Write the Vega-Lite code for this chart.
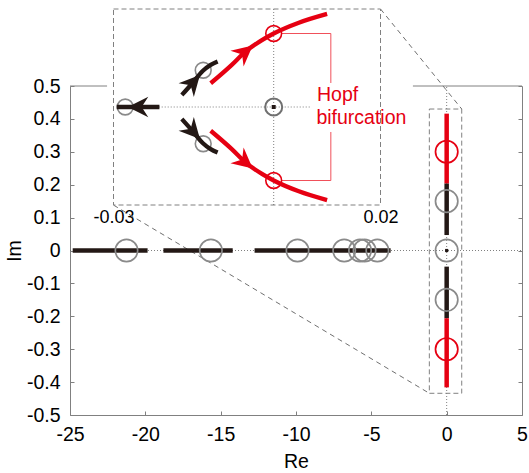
{
  "$schema": "https://vega.github.io/schema/vega-lite/v6.json",
  "width": 452,
  "height": 329,
  "autosize": {"type": "none"},
  "padding": {"left": 70, "top": 86, "right": 7, "bottom": 58},
  "config": {
    "view": {"stroke": null},
    "font": "Liberation Sans",
    "axis": {"labelFont": "Liberation Sans", "titleFont": "Liberation Sans", "labelColor": "#000000", "titleColor": "#000000", "grid": false}
  },
  "datasets": {
    "zero": [
      {"re": -25, "re2": 5, "im": 0, "im2": 0},
      {"re": 0, "re2": 0, "im": -0.5, "im2": 0.5}
    ],
    "zoombox": [{"re": -1.15, "re2": 1.0, "im": -0.434, "im2": 0.43}],
    "connector": [
      {"re": -22.11, "re2": -1.15, "im": 0.138, "im2": -0.434},
      {"re": -4.39, "re2": 1.0, "im": 0.734, "im2": 0.43}
    ],
    "locus": [
      {"re": -24.82, "re2": -19.85, "im": 0, "im2": 0, "kind": "stable"},
      {"re": -18.8, "re2": -14.2, "im": 0, "im2": 0, "kind": "stable"},
      {"re": -12.75, "re2": -3.72, "im": 0, "im2": 0, "kind": "stable"},
      {"re": 0, "re2": 0, "im": 0.047, "im2": 0.204, "kind": "stable"},
      {"re": 0, "re2": 0, "im": -0.206, "im2": -0.049, "kind": "stable"},
      {"re": 0, "re2": 0, "im": 0.204, "im2": 0.416, "kind": "unstable"},
      {"re": 0, "re2": 0, "im": -0.416, "im2": -0.206, "kind": "unstable"}
    ],
    "roots": [
      {"re": -21.25, "im": 0, "kind": "stable"},
      {"re": -15.65, "im": 0, "kind": "stable"},
      {"re": -9.9, "im": 0, "kind": "stable"},
      {"re": -6.8, "im": 0, "kind": "stable"},
      {"re": -5.75, "im": 0, "kind": "stable"},
      {"re": -5.45, "im": 0, "kind": "stable"},
      {"re": -4.6, "im": 0, "kind": "stable"},
      {"re": 0, "im": 0, "kind": "stable"},
      {"re": 0, "im": 0.15, "kind": "stable"},
      {"re": 0, "im": -0.15, "kind": "stable"},
      {"re": 0, "im": 0.3, "kind": "unstable"},
      {"re": 0, "im": -0.3, "kind": "unstable"}
    ],
    "origin": [{"re": 0, "im": 0}],
    "frametop": [
      {"re": -25, "re2": -22.54, "im": 0.5, "im2": 0.5},
      {"re": -2.24, "re2": 5, "im": 0.5, "im2": 0.5}
    ],
    "ibox": [{"x": -0.03, "x2": 0.02, "y": -0.4, "y2": 0.4}],
    "idot": [
      {"x": 0, "x2": 0, "y": -0.4, "y2": 0.4},
      {"x": -0.0294, "x2": 0.0069, "y": 0, "y2": 0}
    ],
    "icurve": [
      {"branch": "red_up", "kind": "unstable", "x": -0.0118, "y": 0.097},
      {"branch": "red_up", "kind": "unstable", "x": -0.0079, "y": 0.171},
      {"branch": "red_up", "kind": "unstable", "x": -0.0053, "y": 0.226},
      {"branch": "red_up", "kind": "unstable", "x": -0.0022, "y": 0.273},
      {"branch": "red_up", "kind": "unstable", "x": 0, "y": 0.3},
      {"branch": "red_up", "kind": "unstable", "x": 0.0047, "y": 0.344},
      {"branch": "red_up", "kind": "unstable", "x": 0.01, "y": 0.38},
      {"branch": "red_dn", "kind": "unstable", "x": -0.0118, "y": -0.097},
      {"branch": "red_dn", "kind": "unstable", "x": -0.0079, "y": -0.171},
      {"branch": "red_dn", "kind": "unstable", "x": -0.0053, "y": -0.226},
      {"branch": "red_dn", "kind": "unstable", "x": -0.0022, "y": -0.273},
      {"branch": "red_dn", "kind": "unstable", "x": 0, "y": -0.3},
      {"branch": "red_dn", "kind": "unstable", "x": 0.0047, "y": -0.344},
      {"branch": "red_dn", "kind": "unstable", "x": 0.01, "y": -0.38},
      {"branch": "blk_up", "kind": "stable", "x": -0.0172, "y": 0.049},
      {"branch": "blk_up", "kind": "stable", "x": -0.0152, "y": 0.098},
      {"branch": "blk_up", "kind": "stable", "x": -0.0133, "y": 0.147},
      {"branch": "blk_up", "kind": "stable", "x": -0.0118, "y": 0.172},
      {"branch": "blk_up", "kind": "stable", "x": -0.0105, "y": 0.186},
      {"branch": "blk_dn", "kind": "stable", "x": -0.0172, "y": -0.049},
      {"branch": "blk_dn", "kind": "stable", "x": -0.0152, "y": -0.098},
      {"branch": "blk_dn", "kind": "stable", "x": -0.0133, "y": -0.147},
      {"branch": "blk_dn", "kind": "stable", "x": -0.0118, "y": -0.172},
      {"branch": "blk_dn", "kind": "stable", "x": -0.0105, "y": -0.186},
      {"branch": "blk_re", "kind": "stable", "x": -0.0294, "y": 0},
      {"branch": "blk_re", "kind": "stable", "x": -0.0214, "y": 0}
    ],
    "iarrow": [
      {"x": -0.0054, "y": 0.224, "kind": "unstable", "heading": 50},
      {"x": -0.0054, "y": -0.224, "kind": "unstable", "heading": 130},
      {"x": -0.0151, "y": 0.1, "kind": "stable", "heading": 42},
      {"x": -0.0151, "y": -0.1, "kind": "stable", "heading": 138},
      {"x": -0.0254, "y": 0, "kind": "stable", "heading": 270}
    ],
    "iroots": [
      {"x": -0.0278, "y": 0, "kind": "stable"},
      {"x": -0.0132, "y": 0.15, "kind": "stable"},
      {"x": -0.0132, "y": -0.15, "kind": "stable"},
      {"x": 0, "y": 0.3, "kind": "unstable"},
      {"x": 0, "y": -0.3, "kind": "unstable"}
    ],
    "iorigin": [{"x": 0, "y": 0}],
    "ibracket": [
      {"x": 0.0015, "x2": 0.0107, "y": 0.3, "y2": 0.3},
      {"x": 0.0107, "x2": 0.0107, "y": 0.3, "y2": 0.098},
      {"x": 0.0107, "x2": 0.0107, "y": -0.102, "y2": -0.3},
      {"x": 0.0015, "x2": 0.0107, "y": -0.3, "y2": -0.3}
    ],
    "itext": [
      {"x": 0.0081, "y": 0.0245, "label": "Hopf"},
      {"x": 0.008, "y": -0.069, "label": "bifurcation"}
    ]
  },
  "layer": [
    {
      "encoding": {
        "x": {
          "field": "re", "type": "quantitative",
          "scale": {"domain": [-25, 5], "nice": false, "zero": false},
          "axis": {
            "title": "Re", "values": [-25, -20, -15, -10, -5, 0, 5],
            "labelExpr": "replace(datum.label, '−', '-')",
            "domainColor": "#808080", "domainWidth": 1, "tickColor": "#808080", "tickWidth": 1,
            "tickSize": -4, "labelPadding": 14.5, "labelFontSize": 19.5, "titleFontSize": 19.5,
            "titleFontWeight": "normal", "titlePadding": 8, "labelFlush": false, "labelOverlap": false, "grid": false
          }
        },
        "y": {
          "field": "im", "type": "quantitative",
          "scale": {"domain": [-0.5, 0.5], "nice": false, "zero": false},
          "axis": {
            "title": "Im", "values": [-0.5, -0.4, -0.3, -0.2, -0.1, 0, 0.1, 0.2, 0.3, 0.4, 0.5],
            "format": "~g", "labelExpr": "replace(datum.label, '−', '-')",
            "domainColor": "#808080", "domainWidth": 1, "tickColor": "#808080", "tickWidth": 1,
            "tickSize": -4, "labelPadding": 14, "labelFontSize": 19.5, "titleFontSize": 19.5,
            "titleFontWeight": "normal", "titlePadding": 2, "labelFlush": false, "labelOverlap": false, "grid": false
          }
        }
      },
      "layer": [
        {
          "data": {"name": "zero"},
          "mark": {"type": "rule", "color": "#606060", "strokeWidth": 0.8, "strokeDash": [1, 2]},
          "encoding": {"x2": {"field": "re2"}, "y2": {"field": "im2"}}
        },
        {
          "data": {"name": "zoombox"},
          "mark": {"type": "rect", "filled": false, "color": "#808080", "strokeWidth": 1, "strokeDash": [5, 3]},
          "encoding": {"x2": {"field": "re2"}, "y2": {"field": "im2"}}
        },
        {
          "data": {"name": "connector"},
          "mark": {"type": "rule", "color": "#707070", "strokeWidth": 1, "strokeDash": [5, 4]},
          "encoding": {"x2": {"field": "re2"}, "y2": {"field": "im2"}}
        },
        {
          "data": {"name": "locus"},
          "mark": {"type": "rule", "strokeWidth": 4.5, "strokeCap": "butt"},
          "encoding": {
            "x2": {"field": "re2"}, "y2": {"field": "im2"},
            "color": {"field": "kind", "type": "nominal", "scale": {"domain": ["stable", "unstable"], "range": ["#231815", "#e60012"]}, "legend": null}
          }
        },
        {
          "data": {"name": "roots"},
          "mark": {"type": "point", "filled": false, "size": 500, "strokeWidth": 1.7, "opacity": 1},
          "encoding": {
            "stroke": {"field": "kind", "type": "nominal", "scale": {"domain": ["stable", "unstable"], "range": ["#8a8a8a", "#e60012"]}, "legend": null}
          }
        },
        {
          "data": {"name": "origin"},
          "mark": {"type": "point", "shape": "square", "filled": true, "size": 10, "color": "#231815", "opacity": 1}
        }
      ]
    },
    {
      "data": {"name": "frametop"},
      "mark": {"type": "rule", "color": "#808080", "strokeWidth": 1},
      "encoding": {
        "x": {"field": "re", "type": "quantitative", "scale": {"domain": [-25, 5], "nice": false, "zero": false}, "axis": null},
        "x2": {"field": "re2"},
        "y": {
          "field": "im", "type": "quantitative",
          "scale": {"domain": [-0.5, 0.5], "nice": false, "zero": false},
          "axis": {
            "orient": "right", "title": null, "labels": false,
            "values": [-0.5, -0.4, -0.3, -0.2, -0.1, 0, 0.1, 0.2, 0.3, 0.4, 0.5],
            "domainColor": "#808080", "domainWidth": 1, "tickColor": "#808080", "tickWidth": 1, "tickSize": -4, "grid": false
          }
        },
        "y2": {"field": "im2"}
      }
    },
    {
      "encoding": {
        "x": {
          "field": "x", "type": "quantitative",
          "scale": {"domain": [-0.03, 0.02], "range": [43.5, 310.5], "nice": false, "zero": false},
          "axis": {
            "orient": "bottom", "offset": -210, "values": [-0.03, 0.02], "title": null,
            "labelExpr": "replace(datum.label, '−', '-')",
            "domain": false, "ticks": false, "grid": false, "labelFontSize": 18, "labelPadding": 3,
            "labelFlush": false, "labelOverlap": false
          }
        },
        "y": {
          "field": "y", "type": "quantitative",
          "scale": {"domain": [-0.4, 0.4], "range": [119, -77], "nice": false, "zero": false},
          "axis": null
        }
      },
      "layer": [
        {
          "data": {"name": "ibox"},
          "mark": {"type": "rect", "filled": false, "color": "#808080", "strokeWidth": 1, "strokeDash": [5, 3]},
          "encoding": {"x2": {"field": "x2"}, "y2": {"field": "y2"}}
        },
        {
          "data": {"name": "idot"},
          "mark": {"type": "rule", "color": "#606060", "strokeWidth": 0.8, "strokeDash": [1, 2]},
          "encoding": {"x2": {"field": "x2"}, "y2": {"field": "y2"}}
        },
        {
          "data": {"name": "ibracket"},
          "mark": {"type": "rule", "color": "#f0505a", "strokeWidth": 1},
          "encoding": {"x2": {"field": "x2"}, "y2": {"field": "y2"}}
        },
        {
          "data": {"name": "iroots"},
          "mark": {"type": "point", "filled": false, "size": 250, "strokeWidth": 1.6, "opacity": 1},
          "encoding": {
            "stroke": {"field": "kind", "type": "nominal", "scale": {"domain": ["stable", "unstable"], "range": ["#8a8a8a", "#e60012"]}, "legend": null}
          }
        },
        {
          "data": {"name": "icurve"},
          "mark": {"type": "line", "strokeWidth": 4.3, "strokeCap": "butt", "interpolate": "monotone"},
          "encoding": {
            "detail": {"field": "branch", "type": "nominal"},
            "color": {"field": "kind", "type": "nominal", "scale": {"domain": ["stable", "unstable"], "range": ["#231815", "#e60012"]}, "legend": null}
          }
        },
        {
          "data": {"name": "iarrow"},
          "mark": {"type": "point", "shape": "M0,-1L1,1L0,0.35L-1,1Z", "filled": true, "size": 420, "opacity": 1},
          "encoding": {
            "angle": {"field": "heading", "type": "quantitative", "scale": null},
            "color": {"field": "kind", "type": "nominal", "scale": {"domain": ["stable", "unstable"], "range": ["#231815", "#e60012"]}, "legend": null}
          }
        },
        {
          "data": {"name": "iorigin"},
          "mark": {"type": "point", "filled": false, "size": 290, "strokeWidth": 2, "color": "#707070", "opacity": 1}
        },
        {
          "data": {"name": "iorigin"},
          "mark": {"type": "point", "shape": "square", "filled": true, "size": 16, "color": "#231815", "opacity": 1}
        },
        {
          "data": {"name": "itext"},
          "mark": {"type": "text", "align": "left", "baseline": "alphabetic", "fontSize": 19.5, "color": "#e60012", "font": "Liberation Sans"},
          "encoding": {"text": {"field": "label", "type": "nominal"}}
        }
      ]
    }
  ],
  "resolve": {"scale": {"x": "independent", "y": "independent"}}
}
